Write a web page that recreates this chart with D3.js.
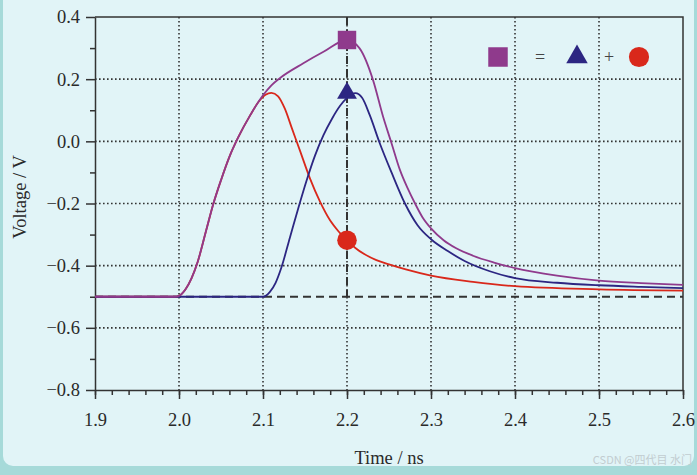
<!DOCTYPE html>
<html>
<head>
<meta charset="utf-8">
<script src="https://cdn.jsdelivr.net/npm/d3@7"></script>
<style>
  body { margin: 0; background: #a6dad9; }
  svg { display: block; }
</style>
</head>
<body>
<div id="chart"></div>
<script>
/* data */
// summed waveform (square)
var sumTime = [1.9, 1.995, 2.0, 2.008, 2.015, 2.022, 2.032, 2.041, 2.05, 2.06, 2.07, 2.085, 2.1, 2.11, 2.12, 2.148, 2.172, 2.2,
    2.215, 2.231, 2.243, 2.253, 2.263, 2.272, 2.281, 2.29, 2.3, 2.315, 2.33, 2.35, 2.375, 2.4, 2.45, 2.5, 2.55, 2.6];
var sumVolt = [-0.5, -0.5, -0.497, -0.475, -0.44, -0.39, -0.29, -0.2, -0.125, -0.05, 0.01, 0.085, 0.148, 0.18, 0.203, 0.251, 0.288, 0.326,
    0.299, 0.197, 0.079, -0.006, -0.092, -0.15, -0.2, -0.245, -0.28, -0.318, -0.344, -0.368, -0.39, -0.408, -0.432, -0.448, -0.456, -0.462];

// first pulse (triangle)
var triTime = [1.9, 2.1, 2.108, 2.115, 2.122, 2.132, 2.142, 2.152, 2.162, 2.172, 2.182, 2.192, 2.2, 2.21, 2.218, 2.227,
    2.239, 2.253, 2.269, 2.284, 2.3, 2.32, 2.34, 2.37, 2.4, 2.45, 2.5, 2.55, 2.6];
var triVolt = [-0.5, -0.5, -0.485, -0.455, -0.405, -0.31, -0.215, -0.125, -0.045, 0.02, 0.072, 0.115, 0.14, 0.155, 0.14, 0.085,
    -0.006, -0.1, -0.2, -0.27, -0.315, -0.353, -0.385, -0.418, -0.44, -0.455, -0.463, -0.468, -0.472];

// second pulse (circle)
var cirTime = [1.9, 1.995, 2.0, 2.008, 2.015, 2.022, 2.032, 2.041, 2.05, 2.06, 2.07, 2.085, 2.095, 2.103, 2.11, 2.118, 2.126,
    2.134, 2.144, 2.156, 2.168, 2.18, 2.19, 2.2, 2.21, 2.22, 2.235, 2.25, 2.27, 2.3, 2.35, 2.4, 2.5, 2.6];
var cirVolt = [-0.5, -0.5, -0.497, -0.475, -0.44, -0.39, -0.29, -0.2, -0.125, -0.05, 0.01, 0.085, 0.128, 0.15, 0.156, 0.145, 0.105,
    0.045, -0.03, -0.12, -0.195, -0.255, -0.29, -0.318, -0.343, -0.362, -0.382, -0.396, -0.412, -0.432, -0.452, -0.466, -0.476, -0.48];

// marker points at t = 2.2 ns
var markTime = 2.2;
var markSum = 0.326, markTri = 0.155, markCir = -0.318;
var baseVolt = -0.5;

var xTicks = [1.9, 2.0, 2.1, 2.2, 2.3, 2.4, 2.5, 2.6];
var xMinor = d3.range(1.9, 2.6001, 0.02);
var yTicks = [-0.8, -0.6, -0.4, -0.2, 0.0, 0.2, 0.4];
var yMinor = [-0.7, -0.5, -0.3, -0.1, 0.1, 0.3];

var W = 697, H = 475;
var margin = { top: 17, right: 14, bottom: 85, left: 95 },
    width = W - margin.left - margin.right,
    height = H - margin.top - margin.bottom;

var purple = "#8f3a8c", blue = "#2c2682", red = "#d9281b", ink = "#333333";
var serif = "'Liberation Serif', 'DejaVu Serif', serif";

var root = d3.select("#chart").append("svg")
    .attr("width", W)
    .attr("height", H);

// page background (scanned card)
root.append("rect").attr("width", W).attr("height", H).attr("fill", "#a6dad9");
root.append("rect")
    .attr("x", 3).attr("y", -12)
    .attr("width", 691).attr("height", 478)
    .attr("rx", 10)
    .attr("fill", "#e1f4f7");

var svg = root.append("g")
    .attr("transform", "translate(" + margin.left + "," + margin.top + ")");

var x = d3.scaleLinear().domain([1.9, 2.6]).range([0, width]);
var y = d3.scaleLinear().domain([-0.8, 0.4]).range([height, 0]);

// dotted grid
svg.append("g").selectAll("line")
    .data(xTicks.slice(1, -1))
    .join("line")
    .attr("x1", d => x(d)).attr("x2", d => x(d))
    .attr("y1", 0).attr("y2", height)
    .attr("stroke", ink).attr("stroke-width", 1.6)
    .attr("stroke-dasharray", "1.6,2.4");
svg.append("g").selectAll("line")
    .data(yTicks.slice(1, -1))
    .join("line")
    .attr("x1", 0).attr("x2", width)
    .attr("y1", d => y(d)).attr("y2", d => y(d))
    .attr("stroke", ink).attr("stroke-width", 1.6)
    .attr("stroke-dasharray", "1.6,2.4");

// dashed guides at -0.5 V and 2.2 ns
svg.append("line")
    .attr("x1", 0).attr("x2", width)
    .attr("y1", y(baseVolt)).attr("y2", y(baseVolt))
    .attr("stroke", ink).attr("stroke-width", 2)
    .attr("stroke-dasharray", "8,5");
svg.append("line")
    .attr("x1", x(markTime)).attr("x2", x(markTime))
    .attr("y1", y(0.4)).attr("y2", y(baseVolt))
    .attr("stroke", ink).attr("stroke-width", 2)
    .attr("stroke-dasharray", "8,5");

// axes
svg.append("g")
    .attr("transform", "translate(0," + height + ")")
    .call(d3.axisBottom(x).tickValues(xTicks).tickFormat(d3.format(".1f")).tickSizeInner(9).tickSizeOuter(0).tickPadding(14));
svg.append("g")
    .attr("transform", "translate(0," + height + ")")
    .call(d3.axisBottom(x).tickValues(xMinor).tickFormat("").tickSizeInner(5).tickSizeOuter(0))
    .select(".domain").remove();

svg.append("g")
    .call(d3.axisLeft(y).tickValues(yTicks).tickFormat(d3.format(".1f")).tickSizeInner(9).tickSizeOuter(0).tickPadding(6));
svg.append("g")
    .call(d3.axisLeft(y).tickValues(yMinor).tickFormat("").tickSizeInner(5).tickSizeOuter(0))
    .select(".domain").remove();

svg.selectAll(".tick line").attr("stroke", ink).attr("stroke-width", 1.5);
svg.selectAll(".domain").attr("stroke", ink).attr("stroke-width", 1.5);
svg.selectAll(".tick text")
    .attr("fill", "#2a2a2a")
    .style("font-family", serif)
    .style("font-size", "18.5px");

// top and right frame
svg.append("path")
    .attr("d", "M0,0H" + width + "V" + height)
    .attr("fill", "none")
    .attr("stroke", ink)
    .attr("stroke-width", 1.5);

// curves
var line = d3.line()
    .x(d => x(d[0]))
    .y(d => y(d[1]))
    .curve(d3.curveMonotoneX);

function draw(ts, vs, color) {
    svg.append("path")
        .datum(d3.zip(ts, vs))
        .attr("fill", "none")
        .attr("stroke", color)
        .attr("stroke-width", 1.8)
        .attr("d", line);
}
draw(cirTime, cirVolt, red);
draw(triTime, triVolt, blue);
draw(sumTime, sumVolt, purple);

// markers
var sym = d3.symbol();
svg.append("path")
    .attr("transform", "translate(" + x(markTime) + "," + y(markSum) + ")")
    .attr("d", sym.type(d3.symbolSquare).size(340)())
    .attr("fill", purple);
svg.append("path")
    .attr("transform", "translate(" + x(markTime) + "," + y(markTri) + ")")
    .attr("d", sym.type(d3.symbolTriangle).size(170)())
    .attr("fill", blue);
svg.append("path")
    .attr("transform", "translate(" + x(markTime) + "," + y(markCir) + ")")
    .attr("d", sym.type(d3.symbolCircle).size(300)())
    .attr("fill", red);

// legend: square = triangle + circle
var lg = root.append("g").attr("transform", "translate(0,57)");
lg.append("path").attr("transform", "translate(498,0)")
    .attr("d", sym.type(d3.symbolSquare).size(380)()).attr("fill", purple);
lg.append("text").attr("x", 540).attr("y", 6).attr("text-anchor", "middle")
    .style("font-family", serif).style("font-size", "18px").attr("fill", "#444").text("=");
lg.append("path").attr("transform", "translate(577,0)")
    .attr("d", sym.type(d3.symbolTriangle).size(200)()).attr("fill", blue);
lg.append("text").attr("x", 609).attr("y", 6).attr("text-anchor", "middle")
    .style("font-family", serif).style("font-size", "18px").attr("fill", "#444").text("+");
lg.append("path").attr("transform", "translate(639,0)")
    .attr("d", sym.type(d3.symbolCircle).size(320)()).attr("fill", red);

// axis titles
root.append("text")
    .attr("x", 389).attr("y", 464)
    .attr("text-anchor", "middle")
    .style("font-family", serif).style("font-size", "18.5px")
    .attr("fill", "#2a2a2a")
    .text("Time / ns");
root.append("text")
    .attr("transform", "translate(26,197) rotate(-90)")
    .attr("text-anchor", "middle")
    .style("font-family", serif).style("font-size", "18.5px")
    .attr("fill", "#2a2a2a")
    .text("Voltage / V");

// watermark
root.append("text")
    .attr("x", 692).attr("y", 464)
    .attr("text-anchor", "end")
    .style("font-family", "'Noto Sans CJK SC', sans-serif").style("font-size", "11px")
    .attr("fill", "#c2ccd0")
    .text("CSDN @四代目 水门");
</script>
</body>
</html>
